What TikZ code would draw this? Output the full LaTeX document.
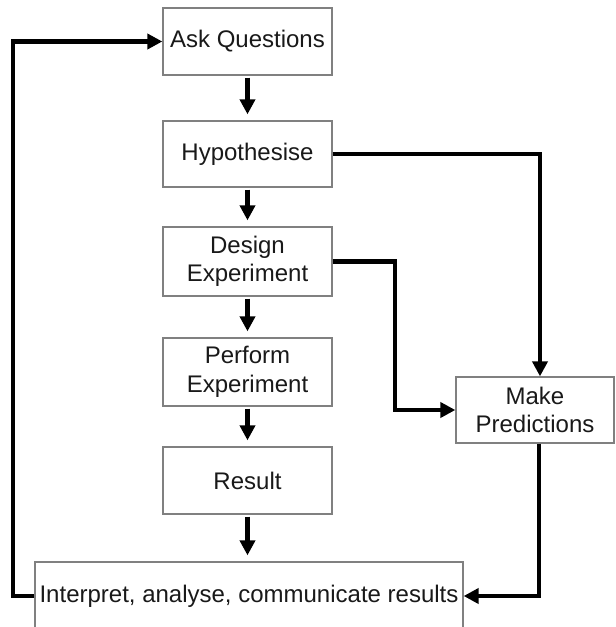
\documentclass[tikz,border=0pt]{standalone}
\usepackage{fontspec}
\setmainfont{Liberation Sans}
\usetikzlibrary{arrows.meta}
\begin{document}
\begin{tikzpicture}[x=1pt,y=-1pt,
  stage/.style={draw=black!50, line width=1.3pt, fill=white, align=center,
    inner sep=0pt, font=\fontsize{24}{28.5}\selectfont, text=black!90},
  flow/.style={line width=4.2pt, -{Triangle[length=15pt,width=15pt]}},
  drop/.style={flow, shorten <=2pt, shorten >=6pt},
]
\clip (0,0) rectangle (616,627);
\fill[white] (0,0) rectangle (616,627);

% main column
\node[stage, minimum width=169pt, minimum height=67pt] (ask)  at (247.5,41.5)  {Ask Questions};
\node[stage, minimum width=169pt, minimum height=66pt] (hyp)  at (247.5,154)   {Hypothesise};
\node[stage, minimum width=169pt, minimum height=69pt] (des)  at (247.5,261.5) {Design\\Experiment};
\node[stage, minimum width=169pt, minimum height=68pt] (perf) at (247.5,372)   {Perform\\Experiment};
\node[stage, minimum width=169pt, minimum height=67pt] (res)  at (247.5,480.5) {Result};
\node[stage, minimum width=428pt, minimum height=68pt] (interp) at (249,596)   {Interpret, analyse, communicate results};

% side box
\node[stage, minimum width=158pt, minimum height=66pt] (pred) at (535,410) {Make\\Predictions};

% downward steps
\draw[drop] (ask)  -- (hyp);
\draw[drop] (hyp)  -- (des);
\draw[drop] (des)  -- (perf);
\draw[drop] (perf) -- (res);
\draw[drop] (res.south) -- (res.south |- interp.north);

% side routes
\draw[flow] (hyp.east) -| ([xshift=5pt]pred.north);
\draw[flow] (des.east) -- ++(62,0) |- (pred.west);
\draw[flow] ([xshift=4pt]pred.south) |- (interp.east);
\draw[flow] (interp.west) -- ++(-21,0) |- (ask.west);
\end{tikzpicture}
\end{document}
